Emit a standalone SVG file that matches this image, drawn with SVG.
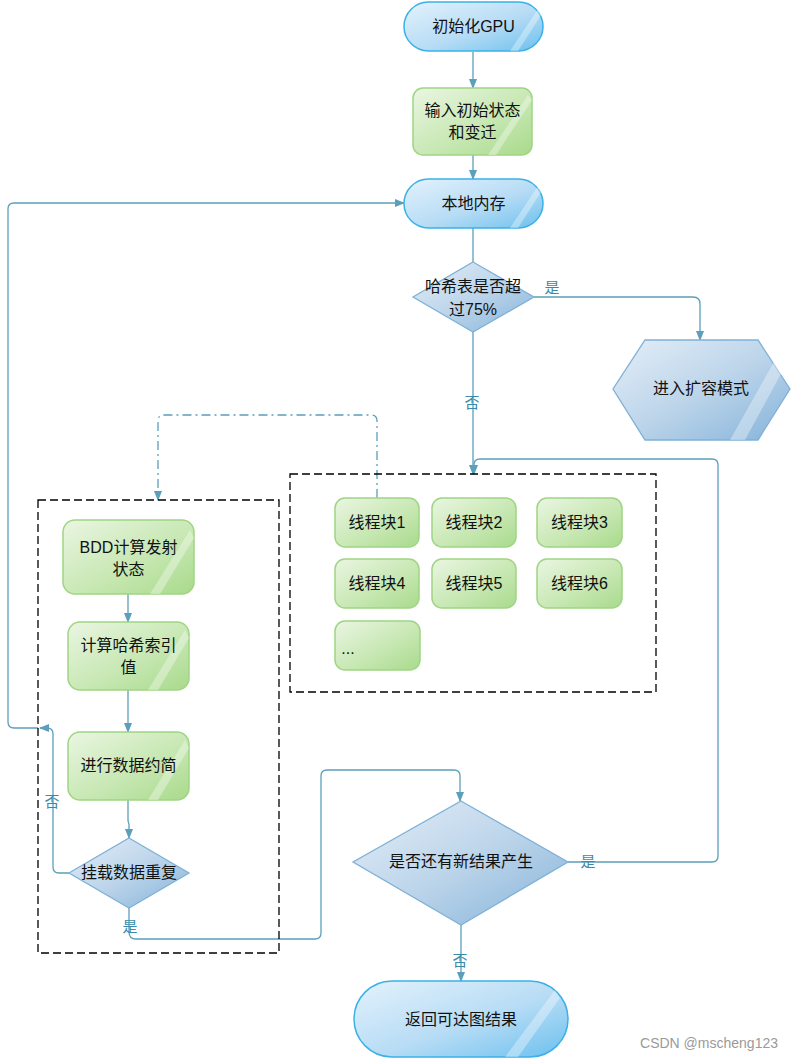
<svg xmlns="http://www.w3.org/2000/svg" width="793" height="1061" viewBox="0 0 793 1061">
<style>
.t{font-family:"Liberation Sans","Noto Sans CJK SC",sans-serif;font-size:16px;fill:#111;text-anchor:middle}
.lb{font-family:"Liberation Sans","Noto Sans CJK SC",sans-serif;font-size:15px;fill:#3d8aa8;text-anchor:middle}
.c{fill:none;stroke:#5b9fba;stroke-width:1.3}
.term{fill:url(#gB);stroke:#3bb1e6;stroke-width:1.5}
.grn{fill:url(#gG);stroke:#9fd584;stroke-width:1.5}
.dia{fill:url(#gD);stroke:#7eb1d8;stroke-width:1.3}
.box{fill:none;stroke:#000;stroke-width:1.3;stroke-dasharray:8 4}
.gl{fill:#fff;opacity:.35}
</style>
<defs>
<linearGradient id="gB" x1="0" y1="0" x2="1" y2="1"><stop offset="0" stop-color="#e3f2fc"/><stop offset=".55" stop-color="#b7dcf5"/><stop offset="1" stop-color="#6cc0ee"/></linearGradient>
<linearGradient id="gG" x1="0" y1="0" x2="1" y2="1"><stop offset="0" stop-color="#eaf6e2"/><stop offset=".55" stop-color="#c8e8b4"/><stop offset="1" stop-color="#a9da8c"/></linearGradient>
<linearGradient id="gD" x1="0" y1="0" x2="1" y2="1"><stop offset="0" stop-color="#e4eef8"/><stop offset=".5" stop-color="#bdd5ea"/><stop offset="1" stop-color="#84b3da"/></linearGradient>
<marker id="a" viewBox="0 0 10 10" refX="9" refY="5" markerWidth="8" markerHeight="8" orient="auto"><path d="M0,1 L10,5 L0,9 z" fill="#5b9fba"/></marker>
</defs>

<g id="connectors">
<path class="c" d="M473,52 V88" marker-end="url(#a)"/>
<path class="c" d="M473,155 V179" marker-end="url(#a)"/>
<path class="c" d="M473,228 V262"/>
<path class="c" d="M534,297 H693 Q700,297 700,304 V340" marker-end="url(#a)"/>
<path class="c" d="M473,332 V474" marker-end="url(#a)"/>
<path class="c" d="M568,862 H712 Q718,862 718,856 V465 Q718,459 712,459 H480 Q474,459 474,465 V474" marker-end="url(#a)"/>
<path class="c" d="M377,498 V421 Q377,415 371,415 H164 Q158,415 158,421 V500" stroke-dasharray="9 4 2 4" marker-end="url(#a)"/>
<path class="c" d="M128,594 V622" marker-end="url(#a)"/>
<path class="c" d="M128,690 V732" marker-end="url(#a)"/>
<path class="c" d="M128,800 V820 Q128,822 129,824 V838" marker-end="url(#a)"/>
<path class="c" d="M69,873 H59 Q53,873 53,867 V734 Q53,728 47,728 H40" marker-end="url(#a)"/>
<path class="c" d="M38,728 H14 Q8,728 8,722 V209 Q8,203 14,203 H404" marker-end="url(#a)"/>
<path class="c" d="M129,908 V932 Q129,939 136,939 H315 Q321,939 321,933 V776 Q321,770 327,770 H454 Q460,770 460,776 V801" marker-end="url(#a)"/>
<path class="c" d="M461,925 V981" marker-end="url(#a)"/>
</g>

<g id="labels">
<text class="lb" x="552" y="293">是</text>
<text class="lb" x="472" y="408">否</text>
<text class="lb" x="52" y="807">否</text>
<text class="lb" x="130" y="932">是</text>
<text class="lb" x="588" y="867">是</text>
<text class="lb" x="460" y="966">否</text>
</g>

<g id="groupRight"><rect class="box" x="290" y="474" width="366" height="218"/></g>
<g id="groupLeft"><rect class="box" x="38" y="500" width="241" height="453"/></g>

<g id="n1">
<rect class="term" x="404" y="2" width="139" height="49" rx="24.5"/>
<path class="gl" d="M510,51 L540,6 L543,12 L518,51 z"/>
<text class="t" x="473.5" y="32">初始化GPU</text>
</g>
<g id="n2">
<rect class="grn" x="413" y="88" width="119" height="67" rx="10"/>
<path class="gl" d="M488,155 L528,95 L532,100 L496,155 z"/>
<text class="t" x="472.5" y="116">输入初始状态</text>
<text class="t" x="472.5" y="138">和变迁</text>
</g>
<g id="n3">
<rect class="term" x="404" y="179" width="139" height="49" rx="24.5"/>
<path class="gl" d="M510,228 L540,183 L543,189 L518,228 z"/>
<text class="t" x="473.5" y="209">本地内存</text>
</g>
<g id="n4">
<path class="dia" d="M473,262 L534,297 L473,332 L413,297 z"/>
<text class="t" x="473" y="292">哈希表是否超</text>
<text class="t" x="473" y="315">过75%</text>
</g>
<g id="n5">
<path class="dia" d="M645,340 L758,340 L790,389 L758,440 L645,440 L613,389 z"/>
<path class="gl" d="M730,440 L775,360 L782,372 L745,440 z"/>
<text class="t" x="701" y="394">进入扩容模式</text>
</g>
<g id="t1"><rect class="grn" x="335" y="498" width="84" height="49" rx="10"/><text class="t" x="377" y="528">线程块1</text></g>
<g id="t2"><rect class="grn" x="432" y="498" width="84" height="49" rx="10"/><text class="t" x="474" y="528">线程块2</text></g>
<g id="t3"><rect class="grn" x="537" y="498" width="85" height="49" rx="10"/><text class="t" x="579.5" y="528">线程块3</text></g>
<g id="t4"><rect class="grn" x="335" y="559" width="84" height="49" rx="10"/><text class="t" x="377" y="589">线程块4</text></g>
<g id="t5"><rect class="grn" x="432" y="559" width="84" height="49" rx="10"/><text class="t" x="474" y="589">线程块5</text></g>
<g id="t6"><rect class="grn" x="537" y="559" width="85" height="49" rx="10"/><text class="t" x="579.5" y="589">线程块6</text></g>
<g id="t7"><rect class="grn" x="335" y="621" width="85" height="49" rx="10"/><text class="t" x="348" y="654">...</text></g>
<g id="n6">
<rect class="grn" x="63" y="520" width="131" height="74" rx="12"/>
<path class="gl" d="M150,594 L190,530 L194,538 L160,594 z"/>
<text class="t" x="128.5" y="553">BDD计算发射</text>
<text class="t" x="128.5" y="575">状态</text>
</g>
<g id="n7">
<rect class="grn" x="68" y="622" width="121" height="68" rx="12"/>
<path class="gl" d="M148,690 L185,630 L189,638 L158,690 z"/>
<text class="t" x="128.5" y="651">计算哈希索引</text>
<text class="t" x="128.5" y="673">值</text>
</g>
<g id="n8">
<rect class="grn" x="68" y="732" width="121" height="68" rx="12"/>
<path class="gl" d="M148,800 L185,740 L189,748 L158,800 z"/>
<text class="t" x="128.5" y="771">进行数据约简</text>
</g>
<g id="n9">
<path class="dia" d="M129,838 L189,873 L129,908 L69,873 z"/>
<text class="t" x="129" y="878">挂载数据重复</text>
</g>
<g id="n10">
<path class="dia" d="M461,801 L568,862 L461,925 L353,862 z"/>
<text class="t" x="461" y="867">是否还有新结果产生</text>
</g>
<g id="n11">
<rect class="term" x="354" y="981" width="214" height="76" rx="38"/>
<path class="gl" d="M505,1057 L555,990 L560,998 L518,1057 z"/>
<text class="t" x="461" y="1025">返回可达图结果</text>
</g>
<text x="778" y="1048" style="font-family:'Liberation Sans',sans-serif;font-size:14px;fill:#9a9a9a;text-anchor:end">CSDN @mscheng123</text>
</svg>
